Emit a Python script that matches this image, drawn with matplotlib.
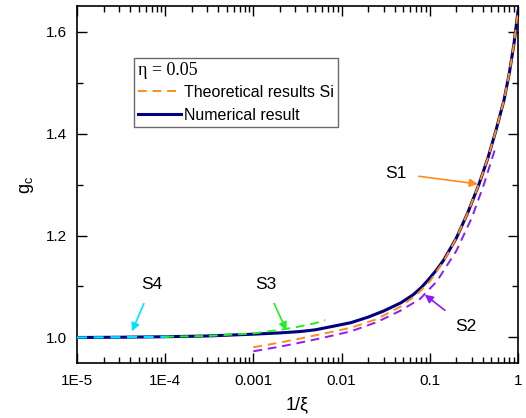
import numpy as np
import matplotlib
matplotlib.use("Agg")
from matplotlib import pyplot as plt
from matplotlib.ticker import FixedLocator, FixedFormatter, MultipleLocator, NullFormatter

plt.rcParams['font.family'] = ['Liberation Sans', 'DejaVu Sans']

# numerical result
x_num = [1e-5, 3e-5, 1e-4, 3e-4, 1e-3, 2e-3, 3.4e-3, 5e-3, 8e-3, 0.0127, 0.02, 0.03,
         0.047, 0.065, 0.08, 0.095, 0.12, 0.144, 0.2, 0.27, 0.36, 0.456, 0.56, 0.693, 0.8, 0.9, 1.0]
g_num = [1.000, 1.0005, 1.0015, 1.003, 1.0065, 1.009, 1.0117, 1.015, 1.022, 1.029, 1.040, 1.052,
         1.068, 1.084, 1.098, 1.112, 1.133, 1.152, 1.195, 1.245, 1.300, 1.352, 1.405, 1.465, 1.520,
         1.576, 1.640]

# theoretical S1
x_s1 = [0.001, 0.002, 0.0034, 0.006, 0.0127, 0.025, 0.047, 0.07, 0.1, 0.144, 0.2, 0.27,
        0.36, 0.456, 0.56, 0.693, 0.8, 0.9, 1.0]
g_s1 = [0.981, 0.990, 0.998, 1.007, 1.019, 1.036, 1.061, 1.083, 1.110, 1.150, 1.195, 1.245,
        1.300, 1.352, 1.405, 1.465, 1.520, 1.576, 1.640]

# theoretical S2
x_s2 = [0.001, 0.002, 0.0034, 0.006, 0.0127, 0.025, 0.047, 0.078, 0.12, 0.2, 0.3, 0.41, 0.55]
g_s2 = [0.973, 0.982, 0.990, 0.999, 1.012, 1.030, 1.053, 1.076, 1.110, 1.170, 1.235, 1.300, 1.370]

# theoretical S3
x_s3 = [1e-4, 3e-4, 1e-3, 2e-3, 3e-3, 5e-3, 6.5e-3]
g_s3 = [1.0015, 1.003, 1.008, 1.015, 1.020, 1.028, 1.034]

# theoretical S4
x_s4 = [1e-5, 3e-5, 1.1e-4]
g_s4 = [1.000, 1.0005, 1.0015]

xtick_vals = [1e-5, 1e-4, 1e-3, 1e-2, 1e-1, 1]
xtick_labels = ['1E-5', '1E-4', '0.001', '0.01', '0.1', '1']

fig = plt.figure(figsize=(5.26, 4.18), dpi=100)
ax = fig.add_axes([0.1464, 0.1316, 0.8384, 0.854])

dash = (0, (4.5, 3))
ax.plot(x_s4, g_s4, color='#00E5FF', ls=dash, lw=1.6, zorder=4)
ax.plot(x_s3, g_s3, color='#22EE22', ls=dash, lw=1.4, zorder=4)
ax.plot(x_s2, g_s2, color='#8C1AFF', ls=dash, lw=1.4, zorder=2)
ax.plot(x_num, g_num, color='#000080', lw=2.2, label='Numerical result', zorder=3)
ax.plot(x_s1, g_s1, color='#FF8C1A', ls=dash, lw=1.4,
        label='Theoretical results Si', zorder=4)

ax.set_xscale('log')
ax.set_xlim(1e-5, 1)
ax.set_ylim(0.95, 1.65)
ax.xaxis.set_major_locator(FixedLocator(xtick_vals))
ax.xaxis.set_major_formatter(FixedFormatter(xtick_labels))
ax.xaxis.set_minor_formatter(NullFormatter())
ax.yaxis.set_major_locator(MultipleLocator(0.2))
ax.yaxis.set_minor_locator(MultipleLocator(0.1))
ax.yaxis.set_major_formatter(plt.FuncFormatter(lambda v, p: f'{v:.1f}'))
ax.tick_params(which='both', direction='in', top=True, right=True, labelsize=11, width=1)
ax.tick_params(which='major', length=7)
ax.tick_params(which='minor', length=4)
ax.tick_params(axis='x', pad=8)
ax.tick_params(axis='y', pad=7)
for s in ax.spines.values():
    s.set_linewidth(1.2)

ax.set_xlabel('1/ξ', fontsize=13, labelpad=6)
ax.set_ylabel('g$_\\mathregular{c}$', fontsize=13, labelpad=7)

def note(txt, xy, xytext, c):
    ax.annotate(txt, xy=xy, xytext=xytext, fontsize=12.5, ha='center', va='center',
                arrowprops=dict(arrowstyle='-|>', color=c, lw=1.2, mutation_scale=12,
                                shrinkA=7, shrinkB=0))

note('S1', (0.351, 1.301), (0.0411, 1.322), '#FF8C1A')
note('S2', (0.0877, 1.084), (0.256, 1.0215), '#8C1AFF')
note('S3', (0.00237, 1.0137), (0.00137, 1.104), '#22EE22')
note('S4', (4.2e-5, 1.012), (7.1e-5, 1.104), '#00E5FF')

h, l = ax.get_legend_handles_labels()
leg = ax.legend(h[::-1], l[::-1], loc='upper left', bbox_to_anchor=(0.129, 0.854),
                borderaxespad=0, fontsize=11.5, title='η = 0.05', alignment='left',
                title_fontproperties={'family': 'Liberation Serif', 'size': 13},
                fancybox=False, edgecolor='#444444', handlelength=2.7,
                handletextpad=0.2, borderpad=0.25, labelspacing=0.5)
leg.get_frame().set_linewidth(1.0)
leg._legend_box.sep = 4

fig.savefig('out.png', dpi=100)
